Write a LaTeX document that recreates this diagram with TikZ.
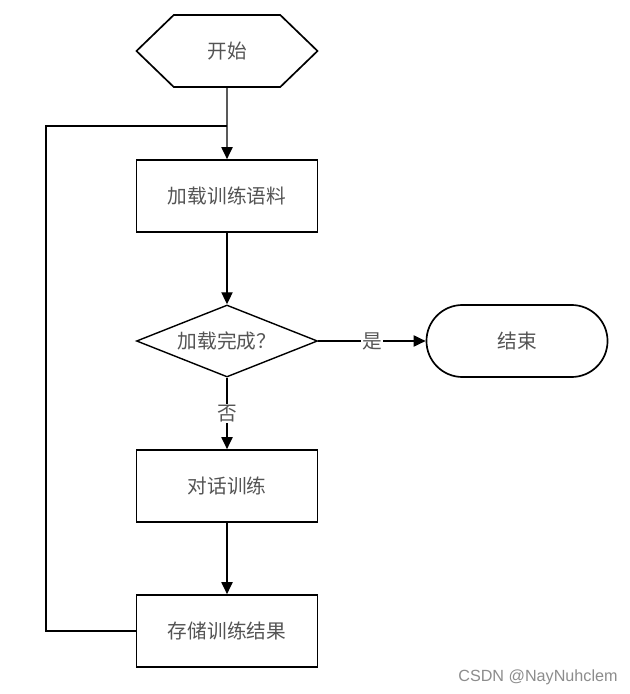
\documentclass[tikz,border=0pt]{standalone}
\usepackage{fontspec}
\usepackage{tikz}
\usetikzlibrary{positioning, shapes.geometric, shapes.symbols, shapes.misc, arrows.meta}
\newfontfamily\cjk{Noto Sans CJK SC}
\newfontfamily\markfont{Liberation Sans}
\definecolor{textgray}{rgb}{0.33, 0.33, 0.33}
\definecolor{markgray}{rgb}{0.55, 0.55, 0.55}
\tikzset{
    block/.style={
        draw, line width = 1.2pt, fill = white,
        minimum width = 4.525cm,
        minimum height = 1.8cm,
        inner sep = 0pt,
        align = center,
        font = \cjk\fontsize{14}{16}\selectfont,
        text = textgray
    },
    startbox/.style = {block, shape = signal, signal to = west and east,
        signal pointer angle = 88},
    endbox/.style = {block, rounded corners = 0.9cm},
    decision/.style = {block, diamond, aspect = 2.5, line width = 1pt},
    line/.style = {-{Triangle[length=3mm, width=2.8mm]}, line width = 1pt},
    answer/.style = {fill = white, inner sep = 1pt, text = textgray,
        font = \cjk\fontsize{14}{16}\selectfont}
}

\begin{document}
\begin{tikzpicture}[x=0.025cm, y=-0.025cm]

    % Page size
    \useasboundingbox (0,0) rectangle (629,694);

    % Steps
    \node[startbox] (start) at (227,51) {开始};
    \node[block] (load) at (227,196) {加载训练语料};
    \node[decision] (check) at (227,341) {加载完成？};
    \node[endbox] (finish) at (517,341) {结束};
    \node[block] (train) at (227,486) {对话训练};
    \node[block] (store) at (227,631) {存储训练结果};

    % Loop corners
    \coordinate (turn) at (46,126);
    \coordinate (join) at (227,126);

    % Connectors
    \draw[line] (start) -- (load);
    \draw[line] (load) -- (check);
    \draw[line] (check) -- node[answer] {是} (finish);
    \draw[line] (check) -- node[answer] {否} (train);
    \draw[line] (train) -- (store);
    \draw[line width = 1pt] (store.west) -| (turn) -- (join);

    % Watermark
    \node[text = markgray, font = \markfont\fontsize{11.5}{14}\selectfont] (mark) at (538,677) {CSDN @NayNuhclem};

\end{tikzpicture}
\end{document}
